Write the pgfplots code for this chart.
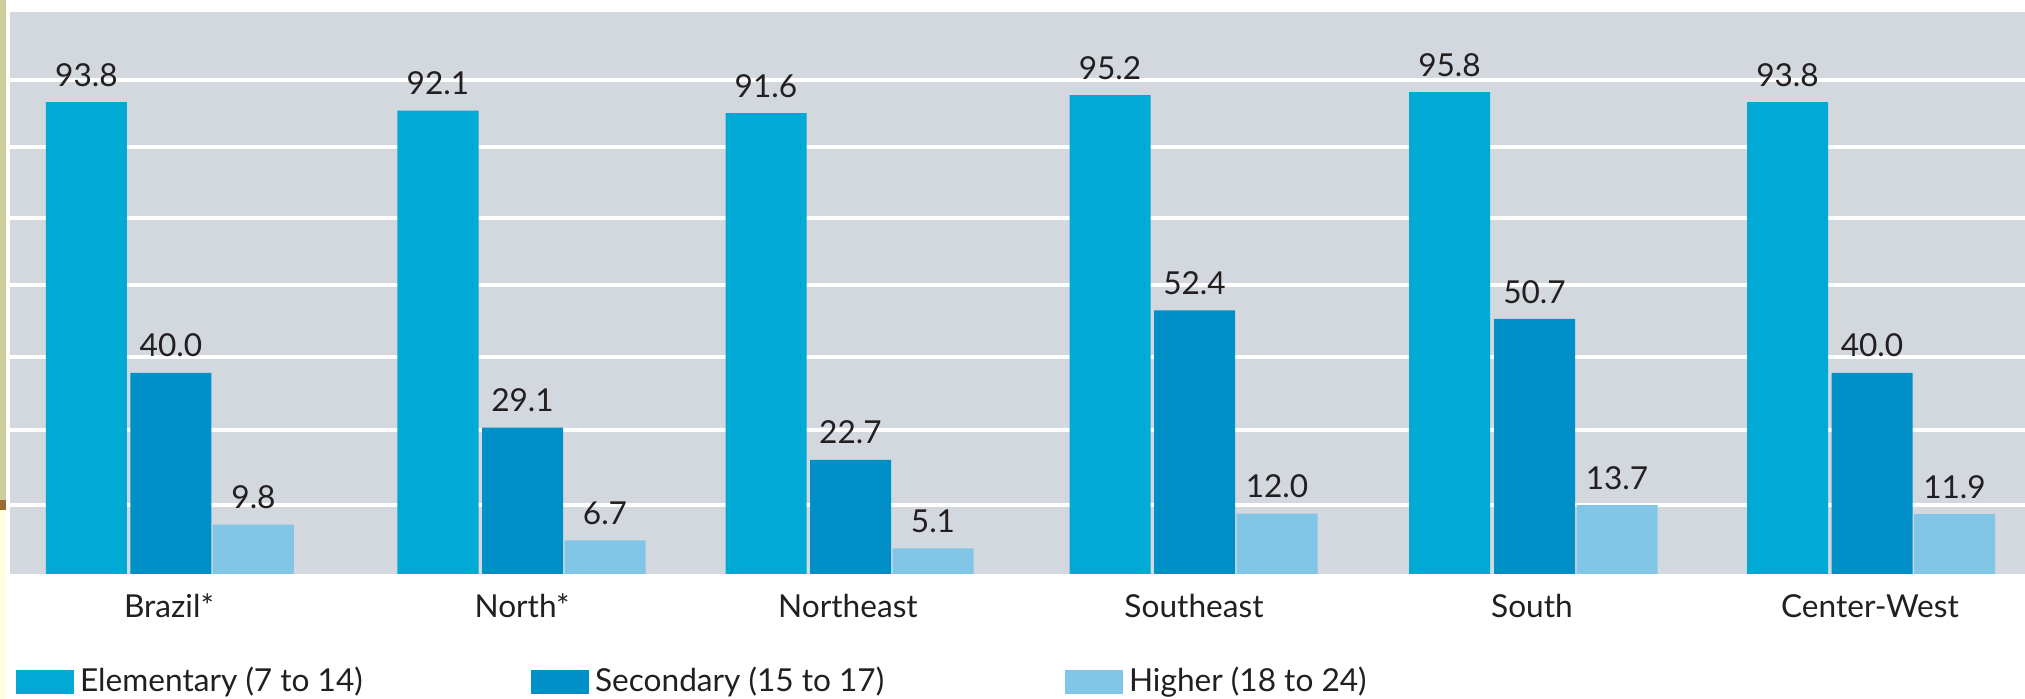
\documentclass[border=0pt]{standalone}
\usepackage{fontspec}
\setmainfont{Lato}
\usepackage{pgfplots}
\pgfplotsset{compat=1.18}
\definecolor{elem}{HTML}{00AAD5}
\definecolor{sec}{HTML}{008FC6}
\definecolor{high}{HTML}{81C6E6}
\definecolor{panel}{HTML}{D3D8DF}
\definecolor{khaki}{HTML}{CDCD99}
\definecolor{brownish}{HTML}{9C6A34}
\definecolor{lightyel}{HTML}{FFFFE0}
\definecolor{txt}{HTML}{231F20}
\begin{document}
\begin{tikzpicture}
\useasboundingbox (0,0) rectangle (202.5mm,69.9mm);
\fill[khaki] (0,19.9mm) rectangle (0.6mm,69.9mm);
\fill[brownish] (0,18.9mm) rectangle (0.6mm,19.9mm);
\fill[lightyel] (0,0) rectangle (0.6mm,18.9mm);
\begin{axis}[
  at={(1.0mm,12.5mm)}, anchor=south west,
  width=201.5mm, height=56.2mm, scale only axis,
  xmin=10, xmax=2025, ymin=0, ymax=111.73,
  axis background/.style={fill=panel},
  axis line style={draw=none},
  major tick length=0pt,
  ytick={13.7,28.6,43.1,57.5,70.8,84.9,98.2},
  yticklabels={},
  ymajorgrids, grid style={white, line width=0.4mm},
  xtick={169,522,848,1194,1532,1870},
  xticklabels={Brazil*,North*,Northeast,Southeast,South,Center-West},
  xticklabel style={font=\fontsize{9}{10}\selectfont, text=txt, anchor=base, yshift=-4.4mm, inner sep=0pt},
  nodes near coords,
  every node near coord/.append style={font=\fontsize{9}{10}\selectfont, text=txt, anchor=south, inner sep=0pt, yshift=1.5mm},
  /pgf/number format/fixed, /pgf/number format/fixed zerofill,
  /pgf/number format/precision=1, /pgf/number format/assume math mode=true,
  legend columns=3,
  legend cell align=left,
  legend style={at={(axis description cs:0.003,-0.1922)}, anchor=west, draw=none, fill=none,
    inner sep=0pt, outer sep=0pt, font=\fontsize{9}{10}\selectfont, text=txt,
    nodes={inner sep=0pt},
    /tikz/every odd column/.append style={column sep=0.6mm}},
  legend image code/.code={\fill[#1] (0mm,-1.2mm) rectangle (5.8mm,1.2mm);},
]
\addplot[ybar, bar width=81, bar shift=0pt, fill=elem, draw=none] coordinates {
 (86.5,93.8) (438,92.1) (766,91.6) (1110,95.2) (1449.5,95.8) (1787.5,93.8)};
\addlegendentry{\makebox[45.1mm][l]{Elementary (7 to 14)}}
\addplot[ybar, bar width=81, bar shift=0pt, fill=sec, draw=none] coordinates {
 (171,40.0) (522.5,29.1) (850.5,22.7) (1194.5,52.4) (1534.5,50.7) (1872,40.0)};
\addlegendentry{\makebox[47.0mm][l]{Secondary (15 to 17)}}
\addplot[ybar, bar width=81, bar shift=0pt, fill=high, draw=none] coordinates {
 (253.5,9.8) (605,6.7) (933,5.1) (1277,12.0) (1617,13.7) (1954.5,11.9)};
\addlegendentry{Higher (18 to 24)}
\end{axis}
\end{tikzpicture}
\end{document}
